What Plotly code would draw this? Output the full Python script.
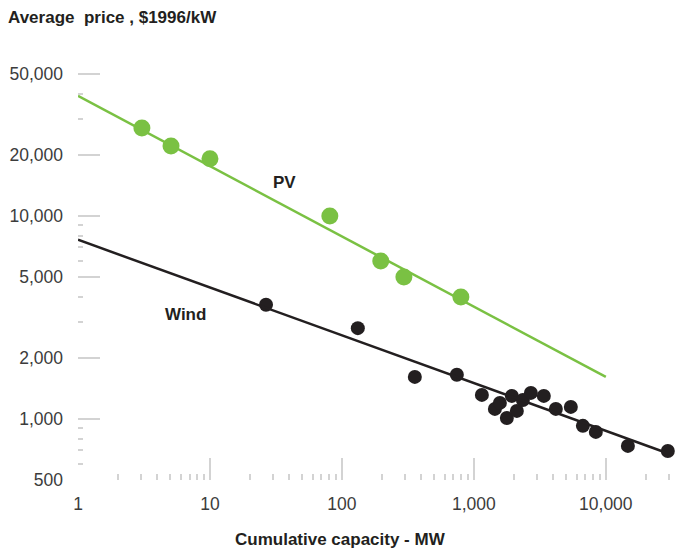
import plotly.graph_objects as go

# PV data points
pv_x = [3.05, 5.07, 10, 81, 197, 295, 797]
pv_y = [27100, 22100, 19100, 10000, 6000, 5000, 3990]
# Wind data points
wind_x = [26.6, 132, 357, 743, 1150, 1443, 1574, 1778, 1941, 2117, 2352, 2704, 3390, 4180, 5430, 6700, 8400, 14700, 29500]
wind_y = [3650, 2800, 1610, 1650, 1313, 1120, 1199, 1011, 1298, 1095, 1240, 1343, 1298, 1120, 1146, 924, 863, 736, 695]
# Fitted lines (endpoints)
pv_fit_x = [1, 10000]
pv_fit_y = [39000, 1610]
wind_fit_x = [1, 31600]
wind_fit_y = [7630, 666]

x_tickvals = [1, 10, 100, 1000, 10000]
x_ticktext = ["1", "10", "100", "1,000", "10,000"]
x_long_ticks = [10, 100, 1000, 10000]
y_tickvals = [500, 1000, 2000, 5000, 10000, 20000, 50000]
y_ticktext = ["500", "1,000", "2,000", "5,000", "10,000", "20,000", "50,000"]
y_long_ticks = [1000, 2000, 5000, 10000, 20000, 50000]
x_minor = [m * 10 ** d for d in range(0, 5) for m in range(2, 10) if m * 10 ** d < 40000]
y_minor = [m * 10 ** d for d in range(2, 5) for m in [3, 4, 6, 7, 8, 9] if 500 < m * 10 ** d < 60000]

GREEN = "#7ac143"
BLACK = "#231f20"
TICKC = "#d3d3d3"
LABC = "#3c3c3c"
FONT = "Liberation Sans"
XR = [0, 4.6]
YR = [2.699, 4.768]

fig = go.Figure()
fig.add_trace(go.Scatter(x=pv_fit_x, y=pv_fit_y, mode="lines",
                         line=dict(color=GREEN, width=2.5), hoverinfo="skip"))
fig.add_trace(go.Scatter(x=wind_fit_x, y=wind_fit_y, mode="lines", xaxis="x2", yaxis="y2",
                         line=dict(color=BLACK, width=2.5), hoverinfo="skip"))
fig.add_trace(go.Scatter(x=pv_x, y=pv_y, mode="markers",
                         marker=dict(color=GREEN, size=17, line=dict(width=0))))
fig.add_trace(go.Scatter(x=wind_x, y=wind_y, mode="markers",
                         marker=dict(color=BLACK, size=14, line=dict(width=0))))

fig.add_annotation(x=1.568, y=4.163, xref="x", yref="y", text="<b>PV</b>",
                   showarrow=False, font=dict(family=FONT, size=17, color=BLACK))
fig.add_annotation(x=0.818, y=3.512, xref="x", yref="y", text="<b>Wind</b>",
                   showarrow=False, font=dict(family=FONT, size=17, color=BLACK))
fig.add_annotation(x=0.433, y=-0.169, xref="paper", yref="paper",
                   text="<b>Cumulative capacity - MW</b>", showarrow=False,
                   font=dict(family=FONT, size=17, color=BLACK))

fig.update_layout(
    width=694, height=551,
    margin=dict(l=78, r=9, t=60, b=71),
    paper_bgcolor="white", plot_bgcolor="white",
    showlegend=False,
    font=dict(family=FONT, size=17, color=LABC),
    title=dict(text="<b>Average  price , $1996/kW</b>", x=8 / 694, xanchor="left",
               y=1 - 17 / 551, yanchor="middle",
               font=dict(family=FONT, size=17, color=BLACK)),
    xaxis=dict(type="log", range=XR, showgrid=False, zeroline=False,
               showline=False, tickmode="array", tickvals=x_tickvals, ticktext=x_ticktext,
               ticks="inside", ticklen=6, tickwidth=1.5, tickcolor=TICKC,
               ticklabelstandoff=11, tickfont=dict(size=17.5, color=LABC),
               minor=dict(tickmode="array", tickvals=x_minor, ticks="inside",
                          ticklen=6, tickwidth=1.5, tickcolor=TICKC, showgrid=False)),
    yaxis=dict(type="log", range=YR, showgrid=False, zeroline=False,
               showline=False, tickmode="array", tickvals=y_tickvals, ticktext=y_ticktext,
               ticks="inside", ticklen=5, tickwidth=1.5, tickcolor=TICKC,
               ticklabelstandoff=14, tickfont=dict(size=17.5, color=LABC),
               minor=dict(tickmode="array", tickvals=y_minor, ticks="inside",
                          ticklen=5, tickwidth=1.5, tickcolor=TICKC, showgrid=False)),
    xaxis2=dict(type="log", range=XR, overlaying="x", anchor="y2", side="bottom",
                showgrid=False, zeroline=False, showline=False, showticklabels=False,
                tickmode="array", tickvals=x_long_ticks, ticks="inside", ticklen=22,
                tickwidth=1.5, tickcolor=TICKC),
    yaxis2=dict(type="log", range=YR, overlaying="y", anchor="x2", side="left",
                showgrid=False, zeroline=False, showline=False, showticklabels=False,
                tickmode="array", tickvals=y_long_ticks, ticks="inside", ticklen=22,
                tickwidth=1.5, tickcolor=TICKC),
)

fig.write_html("out.html", config={"displayModeBar": False},
               post_script="document.body.style.margin='0';")
